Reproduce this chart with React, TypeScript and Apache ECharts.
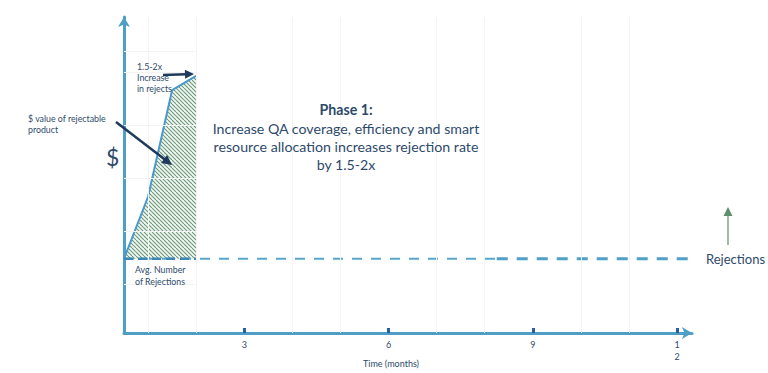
import React, { useEffect, useRef } from "react";
import * as echarts from "echarts";

// ---- data ----
const months = [0.5, 1, 1.5, 2];
const dollarValues = [1.4, 2.57, 4.58, 4.85];
const baselineValue = 1.4;
const baselineThin = [0.5, 8.25];
const baselineThick = [8.25, 12.27];
const baselineUnderArea = [0.5, 2];
const tickMonths = [3, 6, 9, 12];
const tickLabels: Record<number, string> = { 3: "3", 6: "6", 9: "9", 12: "1\n2" };
const gridMonths = [1, 2, 4, 5, 7, 8, 10, 11];
const gridLevels = [0.92, 1.92, 2.92, 3.92, 4.92, 5.32];
const gridLevelSpan = [0.5, 2];

const TEXT = "#2E4A6B";
const AXIS = "#4E9EC6";
const FONT = "Lato, 'Open Sans', sans-serif";

function makeHatch() {
  const c = document.createElement("canvas");
  c.width = 8;
  c.height = 8;
  const ctx = c.getContext("2d")!;
  ctx.fillStyle = "#f4f8f5";
  ctx.fillRect(0, 0, 8, 8);
  ctx.strokeStyle = "#6a9878";
  ctx.lineWidth = 1.1;
  for (let k = -3; k <= 3; k++) {
    ctx.beginPath();
    ctx.moveTo(k * 4, 0);
    ctx.lineTo(k * 4 + 8, 8);
    ctx.stroke();
  }
  return c;
}

function txt(text: string, x: number, y: number, size: number, opts: any = {}) {
  return {
    type: "text",
    x,
    y,
    z: 100,
    style: {
      text,
      fontSize: size,
      fontFamily: FONT,
      fill: TEXT,
      align: opts.align || "left",
      verticalAlign: "middle",
      fontWeight: opts.bold ? "bold" : "normal",
    },
  };
}

function arrow(x1: number, y1: number, x2: number, y2: number, color: string, w: number, hl: number, hw: number) {
  const dx = x2 - x1;
  const dy = y2 - y1;
  const len = Math.sqrt(dx * dx + dy * dy);
  const ux = dx / len;
  const uy = dy / len;
  const bx = x2 - ux * hl;
  const by = y2 - uy * hl;
  const px = -uy * hw;
  const py = ux * hw;
  return [
    {
      type: "line",
      z: 100,
      shape: { x1, y1, x2: bx + ux * 1, y2: by + uy * 1 },
      style: { stroke: color, lineWidth: w },
    },
    {
      type: "polygon",
      z: 100,
      shape: { points: [[x2, y2], [bx + px, by + py], [bx - px, by - py]] },
      style: { fill: color },
    },
  ];
}

export default function App() {
  const ref = useRef<HTMLDivElement>(null);
  useEffect(() => {
    if (!ref.current) return;
    const chart = echarts.init(ref.current, null, { renderer: "svg" });
    const hatch = makeHatch();
    const option: any = {
      animation: false,
      grid: {
        left: 124,
        right: 76,
        top: 17,
        bottom: 40,
        containLabel: false,
        outerBoundsMode: "none",
      },
      xAxis: {
        type: "value",
        min: 0.5,
        max: 12.31,
        axisLine: {
          show: true,
          symbol: ["none", "arrow"],
          symbolSize: [9, 10],
          lineStyle: { color: AXIS, width: 3 },
        },
        axisTick: {
          show: true,
          inside: true,
          length: 5,
          customValues: tickMonths,
          lineStyle: { color: "#2D5E99", width: 3 },
        },
        axisLabel: {
          customValues: tickMonths,
          formatter: (v: number) => tickLabels[v] ?? "",
          fontFamily: FONT,
          fontSize: 9,
          color: TEXT,
          margin: 5,
          lineHeight: 12,
        },
        splitLine: { show: false },
      },
      yAxis: {
        type: "value",
        min: 0,
        max: 5.96,
        axisLine: {
          show: true,
          symbol: ["none", "arrow"],
          symbolSize: [9, 10],
          lineStyle: { color: AXIS, width: 3 },
        },
        axisTick: { show: false },
        axisLabel: { show: false },
        splitLine: { show: false },
      },
      series: [
        {
          type: "line",
          z: 1,
          data: [[0.5, 0]],
          symbol: "none",
          lineStyle: { opacity: 0 },
          silent: true,
          markLine: {
            silent: true,
            symbol: ["none", "none"],
            label: { show: false },
            lineStyle: { color: "#f3f3f3", type: "solid", width: 1 },
            data: [
              ...gridMonths.map((m) => ({ xAxis: m })),
              ...gridLevels.map((v) => [
                { coord: [gridLevelSpan[0], v] },
                { coord: [gridLevelSpan[1], v] },
              ]),
            ],
          },
        },
        {
          type: "line",
          z: 2,
          data: months.map((m, i) => [m, dollarValues[i]]),
          symbol: "none",
          lineStyle: { color: "#4A98CC", width: 2 },
          areaStyle: {
            origin: baselineValue,
            opacity: 1,
            color: { image: hatch, repeat: "repeat", imageWidth: 8, imageHeight: 8 },
          },
        },
        {
          type: "line",
          z: 3,
          data: baselineThin.map((m) => [m, baselineValue]),
          symbol: "none",
          lineStyle: { color: "#56A7CB", width: 2, type: [10, 9] },
        },
        {
          type: "line",
          z: 3,
          data: baselineThick.map((m) => [m, baselineValue]),
          symbol: "none",
          lineStyle: { color: "#4FA0C6", width: 3, type: [11, 9] },
        },
        {
          type: "line",
          z: 4,
          data: baselineUnderArea.map((m) => [m, baselineValue]),
          symbol: "none",
          lineStyle: { color: "#3D86B8", width: 2.5, type: [9, 5] },
        },
      ],
      graphic: [
        txt("$", 106, 157, 23),
        txt("Time (months)", 391, 363, 9, { align: "center" }),
        txt("Phase 1:", 346, 109, 14.2, { align: "center", bold: true }),
        txt("Increase QA coverage, efficiency and smart", 346, 128, 14.2, { align: "center" }),
        txt("resource allocation increases rejection rate", 346, 146, 14.2, { align: "center" }),
        txt("by 1.5-2x", 346, 164, 14.2, { align: "center" }),
        txt("1.5-2x", 137, 66, 8.8),
        txt("Increase", 137, 77, 8.8),
        txt("in rejects", 137, 88, 8.8),
        txt("$ value of rejectable", 28, 118, 8.8),
        txt("product", 28, 129, 8.8),
        txt("Avg. Number", 135, 269, 8.8),
        txt("of Rejections", 135, 281, 8.8),
        txt("Rejections", 706, 259, 13),
        ...arrow(116, 122, 172, 165, "#1F3A5A", 2.5, 10, 5),
        ...arrow(163, 75, 194, 74, "#1F3A5A", 2.5, 9, 4.5),
        ...arrow(728, 245, 728, 207, "#5D8F6C", 1.2, 9, 4.5),
      ],
    };
    chart.setOption(option);
    return () => chart.dispose();
  }, []);
  return (
    <div
      ref={ref}
      style={{ position: "fixed", left: 0, top: 0, width: 768, height: 373, background: "#fff" }}
    />
  );
}
